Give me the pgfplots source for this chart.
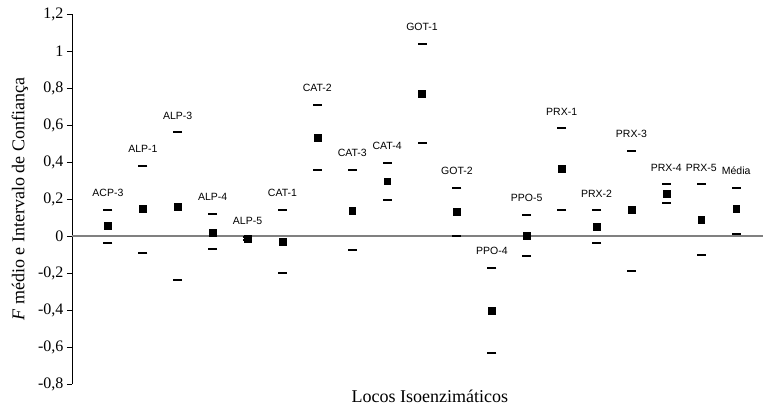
\documentclass[border=0pt]{standalone}
\usepackage{fontspec}
\setmainfont{Liberation Serif}
\newfontfamily\arial{Liberation Sans}
\usepackage{pgfplots}
\usepackage{pgfplotstable}
\pgfplotsset{compat=1.18}
\pgfplotstableread{
x lo mean hi label
1 -0.036 0.054 0.142 ACP-3
2 -0.091 0.147 0.380 ALP-1
3 -0.240 0.160 0.560 ALP-3
4 -0.069 0.020 0.120 ALP-4
5 -0.020 -0.013 -0.006 ALP-5
6 -0.200 -0.030 0.140 CAT-1
7 0.358 0.530 0.710 CAT-2
8 -0.078 0.135 0.358 CAT-3
9 0.195 0.296 0.395 CAT-4
10 0.500 0.770 1.040 GOT-1
11 0.000 0.130 0.260 GOT-2
12 -0.633 -0.402 -0.172 PPO-4
13 -0.110 0.000 0.116 PPO-5
14 0.140 0.362 0.583 PRX-1
15 -0.040 0.051 0.140 PRX-2
16 -0.187 0.142 0.460 PRX-3
17 0.178 0.227 0.280 PRX-4
18 -0.104 0.087 0.280 PRX-5
19 0.013 0.149 0.260 Média
}\data
\begin{document}
\begin{tikzpicture}
\path[use as bounding box] (-72pt,-23pt) rectangle (691pt,384pt);
\begin{axis}[
  at={(0pt,0pt)}, anchor=south west,
  scale only axis, width=691pt, height=370pt,
  xmin=-0.03, xmax=19.77, ymin=-0.8, ymax=1.2,
  axis y line*=left, axis x line*=bottom,
  x axis line style={draw=none}, xtick=\empty,
  y axis line style={-, black},
  ytick={-0.8,-0.6,-0.4,-0.2,0,0.2,0.4,0.6,0.8,1,1.2},
  yticklabel style={font=\fontsize{16}{18}\selectfont,
    /pgf/number format/.cd, use comma, fixed, precision=1, assume math mode=true},
  tick align=outside, major tick length=5pt,
  tick style={black},
  ylabel={\textit{F} médio e Intervalo de Confiança},
  every axis y label/.style={at={(axis description cs:0,0.5)}, xshift=-52pt, rotate=90, anchor=center, font=\fontsize{18}{20}\selectfont},
  xlabel={Locos Isoenzimáticos},
  every axis x label/.style={at={(axis description cs:0.518,0)}, anchor=center, yshift=-12pt, font=\fontsize{18}{20}\selectfont},
  clip=false,
]
\addplot[gray, line width=1.2pt, forget plot] coordinates {(-0.03,0) (19.77,0)};
\addplot[only marks, mark=-, mark size=4.5pt, mark options={line width=2pt, line cap=butt}] table[x=x,y=lo]{\data};
\addplot[only marks, mark=square*, mark size=3.4pt] table[x=x,y=mean]{\data};
\addplot[only marks, mark=-, mark size=4.5pt, mark options={line width=2pt, line cap=butt},
  nodes near coords, point meta=explicit symbolic,
  every node near coord/.append style={font=\arial\fontsize{10.5}{12}\selectfont, anchor=south, inner sep=0pt, yshift=12pt, black}]
  table[x=x,y=hi,meta=label]{\data};
\end{axis}
\end{tikzpicture}
\end{document}
